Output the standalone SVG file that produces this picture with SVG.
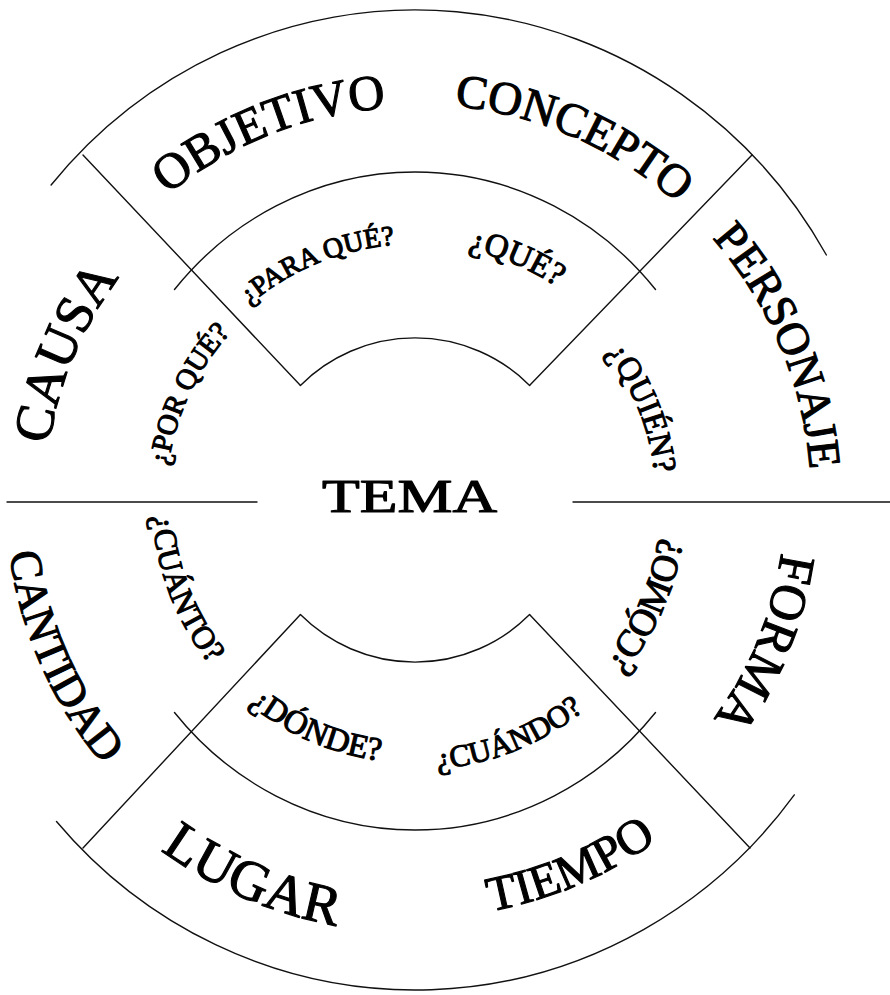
<svg xmlns="http://www.w3.org/2000/svg" xmlns:xlink="http://www.w3.org/1999/xlink" width="890" height="995" viewBox="0 0 890 995">
<style>
.ln{fill:none;stroke:#111;stroke-width:1.4;stroke-linecap:round}
.t{font-family:"Liberation Serif","Times New Roman",serif;fill:#000;stroke:#000;stroke-width:1.1;stroke-linejoin:round}
</style>
<defs>
<path id="cw393" d="M 415 893 A 393 393 0 0 1 415 107 A 393 393 0 0 1 415 893"/>
<path id="cw396" d="M 415 896 A 396 396 0 0 1 415 104 A 396 396 0 0 1 415 896"/>
<path id="cw370" d="M 415 870 A 370 370 0 0 1 415 130 A 370 370 0 0 1 415 870"/>
<path id="cw256" d="M 415 756 A 256 256 0 0 1 415 244 A 256 256 0 0 1 415 756"/>
<path id="cw241" d="M 415 741 A 241 241 0 0 1 415 259 A 241 241 0 0 1 415 741"/>
<path id="cw249" d="M 415 749 A 249 249 0 0 1 415 251 A 249 249 0 0 1 415 749"/>
<path id="ccw409" d="M 415 91 A 409 409 0 0 0 415 909 A 409 409 0 0 0 415 91"/>
<path id="ccw433" d="M 415 67 A 433 433 0 0 0 415 933 A 433 433 0 0 0 415 67"/>
<path id="ccw418" d="M 415 82 A 418 418 0 0 0 415 918 A 418 418 0 0 0 415 82"/>
<path id="ccw263" d="M 415 237 A 263 263 0 0 0 415 763 A 263 263 0 0 0 415 237"/>
<path id="ccw270" d="M 415 230 A 270 270 0 0 0 415 770 A 270 270 0 0 0 415 230"/>
<path id="ccw271" d="M 415 229 A 271 271 0 0 0 415 771 A 271 271 0 0 0 415 229"/>
</defs>
<g id="connectors">
<path class="ln" d="M 51.1 185 A 475 490 0 0 1 826.4 255"/>
<path class="ln" d="M 794.3 794.9 A 475 490 0 0 1 56.5 821.5"/>
<path class="ln" d="M 174.5 289.5 A 314 329 0 0 1 655.5 289.5"/>
<path class="ln" d="M 655.5 712.5 A 314 329 0 0 1 174.5 712.5"/>
<path class="ln" d="M 300.4 385.4 A 162 162 0 0 1 529.6 385.4"/>
<path class="ln" d="M 529.6 614.6 A 162 162 0 0 1 300.4 614.6"/>
<line class="ln" x1="83" y1="155" x2="300" y2="385"/>
<line class="ln" x1="752" y1="155" x2="530" y2="385"/>
<line class="ln" x1="83" y1="848" x2="300" y2="615"/>
<line class="ln" x1="750" y1="848" x2="530" y2="615"/>
<line class="ln" x1="7" y1="502" x2="257" y2="502"/>
<line class="ln" x1="573" y1="502" x2="890" y2="502"/>
</g>
<g id="tema"><text class="t" x="409.5" y="512" font-size="46" text-anchor="middle" textLength="175" lengthAdjust="spacingAndGlyphs">TEMA</text></g>
<g id="objetivo"><text class="t" font-size="50" text-anchor="middle" transform="rotate(-21.6 415 500)"><textPath href="#cw393" xlink:href="#cw393" startOffset="50%">OBJETIVO</textPath></text></g>
<g id="concepto"><text class="t" font-size="47" text-anchor="middle" transform="rotate(23.6 415 500)"><textPath href="#cw396" xlink:href="#cw396" startOffset="50%">CONCEPTO</textPath></text></g>
<g id="personaje"><text class="t" font-size="46" text-anchor="middle" transform="rotate(67.1 415 500)"><textPath href="#cw396" xlink:href="#cw396" startOffset="50%">PERSONAJE</textPath></text></g>
<g id="causa"><text class="t" font-size="54" text-anchor="middle" transform="rotate(-67.2 415 500)"><textPath href="#cw370" xlink:href="#cw370" startOffset="50%">CAUSA</textPath></text></g>
<g id="forma"><text class="t" font-size="51" text-anchor="middle" transform="rotate(112.2 415 500)"><textPath href="#cw370" xlink:href="#cw370" startOffset="50%">FORMA</textPath></text></g>
<g id="cantidad"><text class="t" font-size="45" text-anchor="middle" transform="rotate(66.1 415 500)"><textPath href="#ccw409" xlink:href="#ccw409" startOffset="50%">CANTIDAD</textPath></text></g>
<g id="lugar"><text class="t" font-size="56" text-anchor="middle" transform="rotate(23.25 415 500)"><textPath href="#ccw433" xlink:href="#ccw433" startOffset="50%">LUGAR</textPath></text></g>
<g id="tiempo"><text class="t" font-size="49" text-anchor="middle" transform="rotate(-22.9 415 500)"><textPath href="#ccw418" xlink:href="#ccw418" startOffset="50%">TIEMPO</textPath></text></g>
<g id="para-que"><text class="t" font-size="28" text-anchor="middle" transform="rotate(-22.5 415 500)"><textPath href="#cw256" xlink:href="#cw256" startOffset="50%">¿PARA QUÉ?</textPath></text></g>
<g id="que"><text class="t" font-size="33" text-anchor="middle" transform="rotate(22.8 415 500)"><textPath href="#cw256" xlink:href="#cw256" startOffset="50%">¿QUÉ?</textPath></text></g>
<g id="quien"><text class="t" font-size="33" text-anchor="middle" transform="rotate(68 415 500)"><textPath href="#cw241" xlink:href="#cw241" startOffset="50%">¿QUIÉN?</textPath></text></g>
<g id="por-que"><text class="t" font-size="29" text-anchor="middle" transform="rotate(-65 415 500)"><textPath href="#cw249" xlink:href="#cw249" startOffset="50%">¿POR QUÉ?</textPath></text></g>
<g id="cuanto"><text class="t" font-size="32" text-anchor="middle" transform="rotate(68.9 415 500)"><textPath href="#ccw263" xlink:href="#ccw263" startOffset="50%">¿CUÁNTO?</textPath></text></g>
<g id="donde"><text class="t" font-size="33" text-anchor="middle" transform="rotate(23.4 415 500)"><textPath href="#ccw263" xlink:href="#ccw263" startOffset="50%">¿DÓNDE?</textPath></text></g>
<g id="cuando"><text class="t" font-size="31" text-anchor="middle" transform="rotate(-21.75 415 500)"><textPath href="#ccw270" xlink:href="#ccw270" startOffset="50%">¿CUÁNDO?</textPath></text></g>
<g id="como"><text class="t" font-size="38" text-anchor="middle" transform="rotate(-65.5 415 500)"><textPath href="#ccw271" xlink:href="#ccw271" startOffset="50%">¿CÓMO?</textPath></text></g>
</svg>
